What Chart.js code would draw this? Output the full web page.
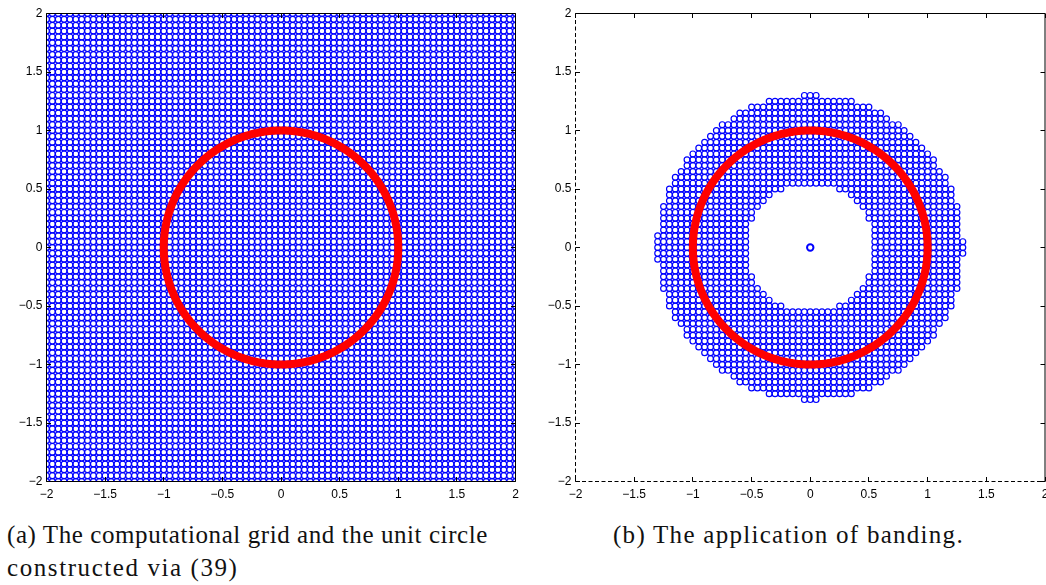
<!DOCTYPE html>
<html>
<head>
<meta charset="utf-8">
<title>Grid and banding</title>
<script src="https://cdn.jsdelivr.net/npm/chart.js@4.4.1/dist/chart.umd.min.js"></script>
<style>
  html, body { margin: 0; padding: 0; background: #fff; }
  body { width: 1046px; height: 585px; position: relative; overflow: hidden; }
  canvas { position: absolute; top: 0; }
  #gridChart { left: 0; }
  #bandChart { left: 540px; }
  .caption {
    position: absolute;
    font-family: 'Liberation Serif', 'DejaVu Serif', serif;
    font-size: 25px;
    line-height: 25px;
    color: #111;
    white-space: nowrap;
  }
</style>
</head>
<body>
<canvas id="gridChart" width="540" height="505"></canvas>
<canvas id="bandChart" width="511" height="505"></canvas>
<div class="caption" data-width="481" style="left:7px; top:522px;">(a) The computational grid and the unit circle</div>
<div class="caption" data-width="230" style="left:7px; top:555px;">constructed via (39)</div>
<div class="caption" data-width="350" style="left:613px; top:522px;">(b) The application of banding.</div>
<script>
// tick marks shared by both panels
const tickValues = [-2, -1.5, -1, -0.5, 0, 0.5, 1, 1.5, 2];
const tickLabels = ['\u22122', '\u22121.5', '\u22121', '\u22120.5', '0', '0.5', '1', '1.5', '2'];

// computational grid, x_i = gridMin + i * gridStep
const gridMin = -2;
const gridStep = 0.05;
const gridCount = 81;

// the unit circle
const circleCenter = [0, 0];
const circleRadius = 1;
const circleSamples = 360;

// banded nodes, one entry per grid row (top to bottom)
const bandRowY = [
  1.3, 1.25, 1.2, 1.15, 1.1, 1.05, 1, 0.95, 0.9, 0.85, 0.8, 0.75, 0.7, 0.65,
  0.6, 0.55, 0.5, 0.45, 0.4, 0.35, 0.3, 0.25, 0.2, 0.15, 0.1, 0.05, 0,
  -0.05, -0.1, -0.15, -0.2, -0.25, -0.3, -0.35, -0.4, -0.45, -0.5, -0.55, -0.6,
  -0.65, -0.7, -0.75, -0.8, -0.85, -0.9, -0.95, -1, -1.05, -1.1, -1.15, -1.2,
  -1.25, -1.3,
];
const bandLeftX = [
  -0.05, -0.35, -0.5, -0.6, -0.65, -0.75, -0.8, -0.85, -0.9, -0.95, -1, -1.05, -1.05, -1.1,
  -1.15, -1.15, -1.2, -1.2, -1.2, -1.25, -1.25, -1.25, -1.25, -1.25, -1.3, -1.3, -1.3,
  -1.3, -1.3, -1.25, -1.25, -1.25, -1.25, -1.25, -1.2, -1.2, -1.2, -1.15, -1.15,
  -1.1, -1.05, -1.05, -1, -0.95, -0.9, -0.85, -0.8, -0.75, -0.65, -0.6, -0.5,
  -0.35, -0.05,
];
const bandRightX = [
  0.05, 0.35, 0.5, 0.6, 0.65, 0.75, 0.8, 0.85, 0.9, 0.95, 1, 1.05, 1.05, 1.1,
  1.15, 1.15, 1.2, 1.2, 1.2, 1.25, 1.25, 1.25, 1.25, 1.25, 1.25, 1.3, 1.3,
  1.3, 1.25, 1.25, 1.25, 1.25, 1.25, 1.25, 1.2, 1.2, 1.2, 1.15, 1.15,
  1.1, 1.05, 1.05, 1, 0.95, 0.9, 0.85, 0.8, 0.75, 0.65, 0.6, 0.5,
  0.35, 0.05,
];
// smallest |x| kept on the row; 0 means the row has no hole
const bandHoleX = [
  0, 0, 0, 0, 0, 0, 0, 0, 0, 0, 0, 0, 0, 0,
  0, 0, 0.25, 0.35, 0.4, 0.45, 0.5, 0.5, 0.55, 0.55, 0.55, 0.55, 0.55,
  0.55, 0.55, 0.55, 0.55, 0.5, 0.5, 0.45, 0.4, 0.35, 0.25, 0, 0,
  0, 0, 0, 0, 0, 0, 0, 0, 0, 0, 0, 0,
  0, 0,
];
// the single node marked thick in panel (b)
const originX = [0];
const originY = [0];

const BLUE = '#0000ff';
const RED = '#ff0000';

function gridIndex(v) {
  return Math.round((v - gridMin) / gridStep);
}

function gridValue(i) {
  return +(gridMin + i * gridStep).toFixed(2);
}

function buildGrid() {
  const pts = [];
  for (let j = 0; j < gridCount; j++) {
    for (let i = 0; i < gridCount; i++) {
      pts.push({ x: gridValue(i), y: gridValue(j) });
    }
  }
  return pts;
}

function buildBand() {
  const pts = [];
  bandRowY.forEach((y, r) => {
    const i0 = gridIndex(bandLeftX[r]);
    const i1 = gridIndex(bandRightX[r]);
    const hole = Math.round(bandHoleX[r] / gridStep);
    for (let i = i0; i <= i1; i++) {
      const k = Math.abs(i - gridIndex(0));
      if (hole > 0 && k < hole) continue;
      pts.push({ x: gridValue(i), y: y });
    }
  });
  return pts;
}

function buildCircle() {
  const pts = [];
  for (let k = 0; k <= circleSamples; k++) {
    const t = (2 * Math.PI * k) / circleSamples;
    pts.push({
      x: circleCenter[0] + circleRadius * Math.cos(t),
      y: circleCenter[1] + circleRadius * Math.sin(t),
    });
  }
  return pts;
}

/** box and inward ticks on all four sides, like a MATLAB axes */
function framePlugin(dashedSides) {
  return {
    id: 'matlabFrame',
    afterDatasetsDraw(chart) {
      const { ctx, chartArea: a, scales } = chart;
      ctx.save();
      ctx.strokeStyle = '#000';
      ctx.lineWidth = 1;
      const sides = {
        top: [a.left, a.top, a.right, a.top],
        right: [a.right, a.top, a.right, a.bottom],
        bottom: [a.left, a.bottom, a.right, a.bottom],
        left: [a.left, a.top, a.left, a.bottom],
      };
      Object.keys(sides).forEach((name) => {
        const s = sides[name];
        ctx.setLineDash(dashedSides.includes(name) ? [4, 2.5] : []);
        ctx.beginPath();
        ctx.moveTo(s[0], s[1]);
        ctx.lineTo(s[2], s[3]);
        ctx.stroke();
      });
      ctx.setLineDash([]);
      const tl = 4.5;
      ctx.beginPath();
      scales.x.ticks.forEach((t) => {
        const px = Math.round(scales.x.getPixelForValue(t.value) - 0.5) + 0.5;
        ctx.moveTo(px, a.bottom);
        ctx.lineTo(px, a.bottom - tl);
        ctx.moveTo(px, a.top);
        ctx.lineTo(px, a.top + tl);
      });
      scales.y.ticks.forEach((t) => {
        const py = Math.round(scales.y.getPixelForValue(t.value) - 0.5) + 0.5;
        ctx.moveTo(a.left, py);
        ctx.lineTo(a.left + tl, py);
        ctx.moveTo(a.right, py);
        ctx.lineTo(a.right - tl, py);
      });
      ctx.stroke();
      ctx.restore();
    },
  };
}

function axis(isX, size) {
  return {
    type: 'linear',
    min: -2,
    max: 2,
    afterBuildTicks: (s) => {
      s.ticks = tickValues.map((v) => ({ value: v }));
    },
    ticks: {
      callback: (v) => tickLabels[tickValues.indexOf(v)],
      font: { family: "'Liberation Sans', Arial, sans-serif", size: 12 },
      color: '#000',
      padding: isX ? 6 : 4,
      maxRotation: 0,
      autoSkip: false,
    },
    grid: { display: false, drawTicks: false },
    border: { display: false },
    afterFit: (s) => {
      if (isX) s.height = size;
      else s.width = size;
      s.paddingLeft = 0;
      s.paddingRight = 0;
      s.paddingTop = 0;
      s.paddingBottom = 0;
    },
  };
}

function makeChart(canvasId, datasets, opts) {
  return new Chart(document.getElementById(canvasId), {
    type: 'scatter',
    data: { datasets: datasets },
    options: {
      responsive: false,
      animation: false,
      events: [],
      layout: { padding: opts.padding },
      plugins: { legend: { display: false }, tooltip: { enabled: false } },
      scales: {
        x: axis(true, opts.xHeight),
        y: axis(false, opts.yWidth),
      },
    },
    plugins: [framePlugin(opts.dashed)],
  });
}

function circleDataset() {
  return {
    data: buildCircle(),
    showLine: true,
    tension: 0.2,
    borderColor: RED,
    borderWidth: 8,
    pointRadius: 0,
    fill: false,
    order: 0,
  };
}

function nodeDataset(points) {
  return {
    data: points,
    showLine: false,
    pointStyle: 'circle',
    pointRadius: 2.9,
    borderWidth: 1.2,
    borderColor: BLUE,
    backgroundColor: 'rgba(0,0,0,0)',
    order: 2,
  };
}

// (a) the whole grid with the unit circle
makeChart('gridChart', [circleDataset(), nodeDataset(buildGrid())], {
  padding: { left: 0, top: 13.5, right: 24.5, bottom: 0 },
  xHeight: 23.5,
  yWidth: 46.5,
  dashed: [],
});

// (b) only the banded nodes; the canvas runs past the page edge so the
// last x label is cut like in the figure
makeChart('bandChart', [
  {
    data: originX.map((x, i) => ({ x: x, y: originY[i] })),
    showLine: false,
    pointStyle: 'circle',
    pointRadius: 3.2,
    borderWidth: 2,
    borderColor: BLUE,
    backgroundColor: 'rgba(0,0,0,0)',
    order: 1,
  },
  circleDataset(),
  nodeDataset(buildBand()),
], {
  padding: { left: 0, top: 13.5, right: 0, bottom: 0 },
  xHeight: 23.5,
  yWidth: 35.5,
  dashed: ['left', 'bottom'],
});

// stretch each caption line to the width it has in the figure
const measure = document.createElement('canvas').getContext('2d');
document.querySelectorAll('.caption').forEach((el) => {
  const cs = getComputedStyle(el);
  measure.font = cs.fontSize + ' ' + cs.fontFamily;
  const text = el.textContent;
  const natural = measure.measureText(text).width;
  const target = +el.dataset.width;
  el.style.letterSpacing = ((target - natural) / (text.length - 1)).toFixed(2) + 'px';
});
</script>
</body>
</html>
